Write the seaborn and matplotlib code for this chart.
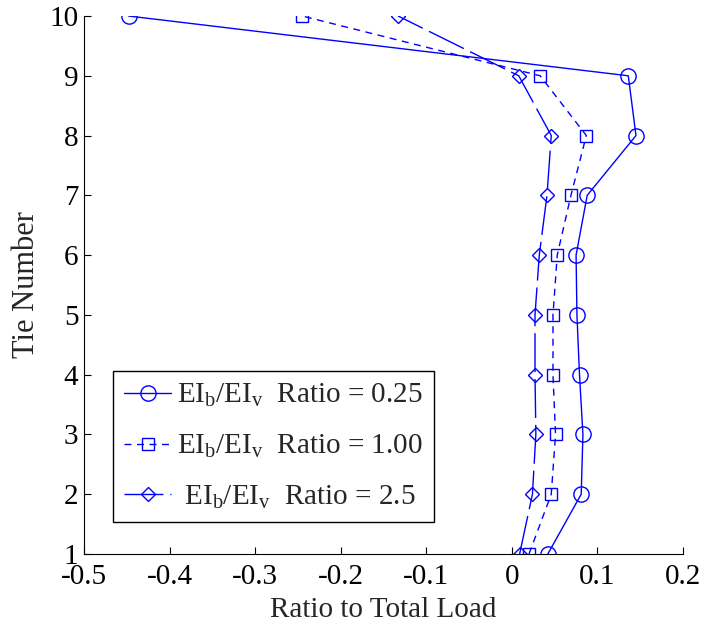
#!/usr/bin/env python3
"""Tie load ratios for three EIb/EIv stiffness ratios."""
import numpy as np
import pandas as pd
import matplotlib
matplotlib.use('Agg')
import matplotlib.pyplot as plt
import seaborn as sns

# Data
tie_number = [1, 2, 3, 4, 5, 6, 7, 8, 9, 10]
ratio_025 = [0.042, 0.081, 0.083, 0.079, 0.076, 0.075, 0.088, 0.145, 0.136, -0.448]
ratio_100 = [0.020, 0.046, 0.051, 0.048, 0.048, 0.053, 0.069, 0.087, 0.033, -0.245]
ratio_250 = [0.009, 0.024, 0.028, 0.027, 0.027, 0.032, 0.041, 0.046, 0.008, -0.133]

labels = [r'EI$_\mathrm{b}$/EI$_\mathrm{v}$  Ratio = 0.25',
          r'EI$_\mathrm{b}$/EI$_\mathrm{v}$  Ratio = 1.00',
          r' EI$_\mathrm{b}$/EI$_\mathrm{v}$  Ratio = 2.5']
x_ticks = [-0.5, -0.4, -0.3, -0.2, -0.1, 0, 0.1, 0.2]
x_tick_labels = ['-0.5', '-0.4', '-0.3', '-0.2', '-0.1', '0', '0.1', '0.2']

sns.set_style('ticks')
plt.rcParams['font.family'] = ['Liberation Serif', 'DejaVu Serif']
plt.rcParams['mathtext.fontset'] = 'custom'
plt.rcParams['mathtext.rm'] = 'Liberation Serif'
plt.rcParams['mathtext.it'] = 'Liberation Serif:italic'

FS = 21

fig = plt.figure(figsize=(7.02, 6.23), dpi=100)
ax = fig.add_axes([0.1197, 0.1108, 0.8533, 0.8635])

blue = '#0000ff'
series = [
    (ratio_025, '-', 'o', 11),
    (ratio_100, (0, (5, 4)), 's', 9),
    (ratio_250, (0, (28, 5)), 'D', 7),
]
handles = []
for (vals, ls, mk, ms), lab in zip(series, labels):
    df = pd.DataFrame({'ratio': vals, 'tie': tie_number})
    sns.lineplot(data=df, x='ratio', y='tie', sort=False, estimator=None,
                 ax=ax, color=blue, linestyle=ls, linewidth=1,
                 marker=mk, markersize=ms,
                 markerfacecolor='none', markeredgecolor=blue,
                 markeredgewidth=1)
    handles.append(ax.lines[-1])

ax.set_xlim(-0.5, 0.2)
ax.set_ylim(1, 10)
ax.set_xticks(x_ticks)
ax.set_xticklabels(x_tick_labels)
ax.set_yticks(tie_number)
ax.tick_params(direction='in', labelsize=FS, length=5, width=0.8, colors='black')
ax.tick_params(axis='x', pad=7)
ax.tick_params(axis='y', pad=4)
ax.set_xlabel('Ratio to Total Load', fontsize=FS, labelpad=5)
ax.set_ylabel('Tie Number', fontsize=FS + 1, labelpad=6)
for side in ['top', 'right']:
    ax.spines[side].set_visible(False)
for side in ['left', 'bottom']:
    ax.spines[side].set_color('black')
    ax.spines[side].set_linewidth(0.8)
ax.grid(False)

leg = ax.legend(handles, labels, loc='lower left', bbox_to_anchor=(0.048, 0.059),
                fontsize=FS, frameon=True, fancybox=False, framealpha=1,
                handlelength=1.6, handletextpad=0.2, borderpad=0.4,
                labelspacing=0.8, borderaxespad=0)
leg.get_frame().set_edgecolor('black')
leg.get_frame().set_linewidth(1)

fig.savefig('out.png', dpi=100)
